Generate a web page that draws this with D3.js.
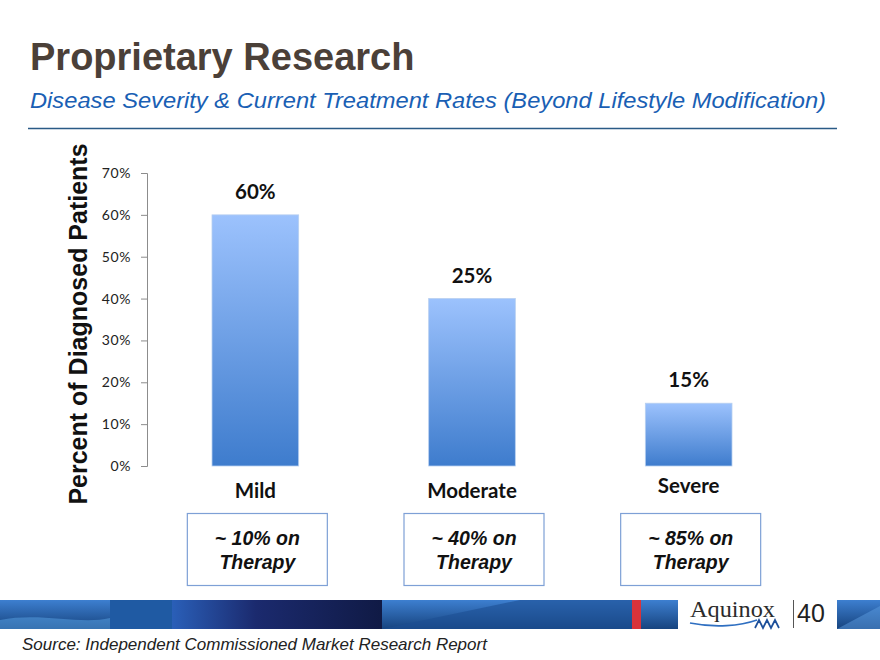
<!DOCTYPE html>
<html>
<head>
<meta charset="utf-8">
<script src="https://cdn.jsdelivr.net/npm/d3@7"></script>
<style>
  body { margin: 0; background: #fff; }
  svg { display: block; }
</style>
</head>
<body>
<script>
// chart values
const categories = ['Mild', 'Moderate', 'Severe']
const barValues = [60, 40, 15]
const valueLabels = ['60%', '25%', '15%']
const therapyRates = ['~ 10% on', '~ 40% on', '~ 85% on']
const yTicks = [0, 10, 20, 30, 40, 50, 60, 70]

let width = 880
let height = 660

const svg = d3.select('body').append('svg')
  .attr('width', width)
  .attr('height', height)

const defs = svg.append('defs')
const grad = defs.append('linearGradient')
  .attr('id', 'barGrad').attr('x1', 0).attr('y1', 0).attr('x2', 0).attr('y2', 1)
grad.append('stop').attr('offset', '0%').attr('stop-color', '#9cc2fd')
grad.append('stop').attr('offset', '100%').attr('stop-color', '#3e7ccd')

// header
svg.append('text')
  .text('Proprietary Research')
  .attr('x', 30).attr('y', 70)
  .style('font-family', 'Liberation Sans, Arial, sans-serif')
  .style('font-weight', 'bold')
  .style('font-size', '38px')
  .style('fill', '#4b4038')

svg.append('text')
  .text('Disease Severity & Current Treatment Rates (Beyond Lifestyle Modification)')
  .attr('x', 30).attr('y', 108)
  .attr('textLength', 796)
  .attr('lengthAdjust', 'spacingAndGlyphs')
  .style('font-family', 'Liberation Sans, Arial, sans-serif')
  .style('font-style', 'italic')
  .style('font-size', '21.5px')
  .style('fill', '#1a5fb4')

svg.append('line')
  .attr('x1', 28).attr('x2', 837).attr('y1', 128.5).attr('y2', 128.5)
  .attr('stroke', '#2a5a86').attr('stroke-width', 1.5)

// scales
const yScale = d3.scaleLinear().domain([0, 70]).range([466, 173])
const xScale = d3.scaleBand().domain(categories).range([147, 797]).paddingInner(0.6).paddingOuter(0.3)

// y axis
const yAxis = d3.axisLeft(yScale)
  .tickValues(yTicks)
  .tickSize(6)
  .tickPadding(10)
  .tickFormat(d => d + '%')

const yg = svg.append('g')
  .attr('transform', 'translate(147,0)')
  .call(yAxis)
yg.select('.domain').attr('stroke', '#8c8c8c').attr('stroke-width', 1)
yg.selectAll('.tick line').attr('stroke', '#8c8c8c')
yg.selectAll('.tick text')
  .style('font-family', 'Lato, Carlito, sans-serif')
  .style('font-size', '14px')
  .style('letter-spacing', '0.6px')
  .style('fill', '#222')

svg.append('text')
  .text('Percent of Diagnosed Patients')
  .attr('transform', 'translate(87,324) rotate(-90)')
  .attr('text-anchor', 'middle')
  .style('font-family', 'Liberation Sans, Arial, sans-serif')
  .style('font-weight', 'bold')
  .style('font-size', '25px')
  .style('fill', '#111')

// bars
svg.selectAll('rect.bar')
  .data(barValues)
  .enter()
  .append('rect')
  .attr('class', 'bar')
  .attr('x', (d, i) => xScale(categories[i]))
  .attr('y', d => yScale(d))
  .attr('width', xScale.bandwidth())
  .attr('height', d => yScale(0) - yScale(d))
  .attr('fill', 'url(#barGrad)')
  .attr('stroke', '#b7cff0')
  .attr('stroke-width', 0.8)

svg.selectAll('text.vlabel')
  .data(valueLabels)
  .enter()
  .append('text')
  .attr('class', 'vlabel')
  .text(d => d)
  .attr('x', (d, i) => xScale(categories[i]) + xScale.bandwidth() / 2)
  .attr('y', (d, i) => yScale(barValues[i]) - 16)
  .attr('text-anchor', 'middle')
  .style('font-family', 'Lato, Carlito, sans-serif')
  .style('font-weight', 'bold')
  .style('font-size', '20.5px')
  .style('fill', '#111')

svg.selectAll('text.cat')
  .data(categories)
  .enter()
  .append('text')
  .attr('class', 'cat')
  .text(d => d)
  .attr('x', d => xScale(d) + xScale.bandwidth() / 2)
  .attr('y', (d, i) => i == 2 ? 493 : 498)
  .attr('text-anchor', 'middle')
  .style('font-family', 'Lato, Carlito, sans-serif')
  .style('font-weight', 'bold')
  .style('font-size', '20.5px')
  .style('fill', '#111')

// therapy boxes
const boxes = svg.selectAll('g.box')
  .data(therapyRates)
  .enter()
  .append('g')
  .attr('class', 'box')
  .attr('transform', (d, i) => `translate(${xScale(categories[i]) + xScale.bandwidth() / 2 + 2},0)`)

boxes.append('rect')
  .attr('x', -70).attr('y', 513.5)
  .attr('width', 140).attr('height', 72)
  .attr('fill', '#fff')
  .attr('stroke', '#7ea0d6')
  .attr('stroke-width', 1.2)

boxes.append('text')
  .text(d => d)
  .attr('x', 0).attr('y', 545)
  .attr('text-anchor', 'middle')
  .style('font-family', 'Liberation Sans, Arial, sans-serif')
  .style('font-weight', 'bold').style('font-style', 'italic')
  .style('font-size', '19.5px').style('fill', '#111')

boxes.append('text')
  .text('Therapy')
  .attr('x', 0).attr('y', 569)
  .attr('text-anchor', 'middle')
  .style('font-family', 'Liberation Sans, Arial, sans-serif')
  .style('font-weight', 'bold').style('font-style', 'italic')
  .style('font-size', '19.5px').style('fill', '#111')

// footer band
const band = svg.append('g')
const bandGrad = defs.append('linearGradient').attr('id', 'navy').attr('x1', 0).attr('x2', 1)
bandGrad.append('stop').attr('offset', '0%').attr('stop-color', '#2a5fb8')
bandGrad.append('stop').attr('offset', '40%').attr('stop-color', '#1b2a6e')
bandGrad.append('stop').attr('offset', '100%').attr('stop-color', '#101a45')
const vGrad = defs.append('linearGradient').attr('id', 'vshade').attr('x1', 0).attr('x2', 0).attr('y1', 0).attr('y2', 1)
vGrad.append('stop').attr('offset', '0%').attr('stop-color', '#3d7fd0')
vGrad.append('stop').attr('offset', '100%').attr('stop-color', '#17447f')

band.append('rect').attr('x', 0).attr('y', 600).attr('width', 110).attr('height', 29).attr('fill', 'url(#vshade)')
band.append('rect').attr('x', 110).attr('y', 600).attr('width', 62).attr('height', 29).attr('fill', '#1f5aa3')
band.append('rect').attr('x', 172).attr('y', 600).attr('width', 210).attr('height', 29).attr('fill', 'url(#navy)')
band.append('rect').attr('x', 382).attr('y', 600).attr('width', 250).attr('height', 29).attr('fill', 'url(#vshade)')
band.append('path').attr('d', 'M382,629 L520,600 L632,600 L632,629 Z').attr('fill', '#1c4f93').attr('opacity', 0.6)
band.append('path').attr('d', 'M0,620 C40,612 80,625 110,618 L110,629 L0,629 Z').attr('fill', '#5aa3e6').attr('opacity', 0.5)
band.append('rect').attr('x', 632).attr('y', 600).attr('width', 9).attr('height', 29).attr('fill', '#d8333b')
band.append('rect').attr('x', 641).attr('y', 600).attr('width', 37).attr('height', 29).attr('fill', 'url(#vshade)')
band.append('rect').attr('x', 837).attr('y', 600).attr('width', 43).attr('height', 29).attr('fill', 'url(#vshade)')
band.append('path').attr('d', 'M837,629 L880,606 L880,629 Z').attr('fill', '#5b9be0').attr('opacity', 0.5)

// logo
svg.append('text')
  .text('Aquinox')
  .attr('x', 690).attr('y', 617)
  .attr('textLength', 85)
  .attr('lengthAdjust', 'spacingAndGlyphs')
  .style('font-family', 'Liberation Serif, DejaVu Serif, serif')
  .style('font-size', '23px')
  .style('fill', '#2b2b2b')
svg.append('path')
  .attr('d', 'M690,623 C715,628 740,626 757,620')
  .attr('fill', 'none').attr('stroke', '#2f6fc1').attr('stroke-width', 1.6)
svg.append('path')
  .attr('d', 'M755,628 L759,620 L763,628 L767,620 L771,628 L775,620 L779,628')
  .attr('fill', 'none').attr('stroke', '#1d4f9a').attr('stroke-width', 1.7)
svg.append('line')
  .attr('x1', 793.5).attr('x2', 793.5).attr('y1', 600).attr('y2', 628)
  .attr('stroke', '#555').attr('stroke-width', 1)
svg.append('text')
  .text('40')
  .attr('x', 797).attr('y', 622)
  .style('font-family', 'Liberation Sans, Arial, sans-serif')
  .style('font-size', '25px')
  .style('fill', '#222')

// source
svg.append('text')
  .text('Source: Independent Commissioned Market Research Report')
  .attr('x', 22).attr('y', 650)
  .style('font-family', 'Liberation Sans, Arial, sans-serif')
  .style('font-style', 'italic')
  .style('font-size', '17px')
  .style('fill', '#222')
</script>
</body>
</html>
